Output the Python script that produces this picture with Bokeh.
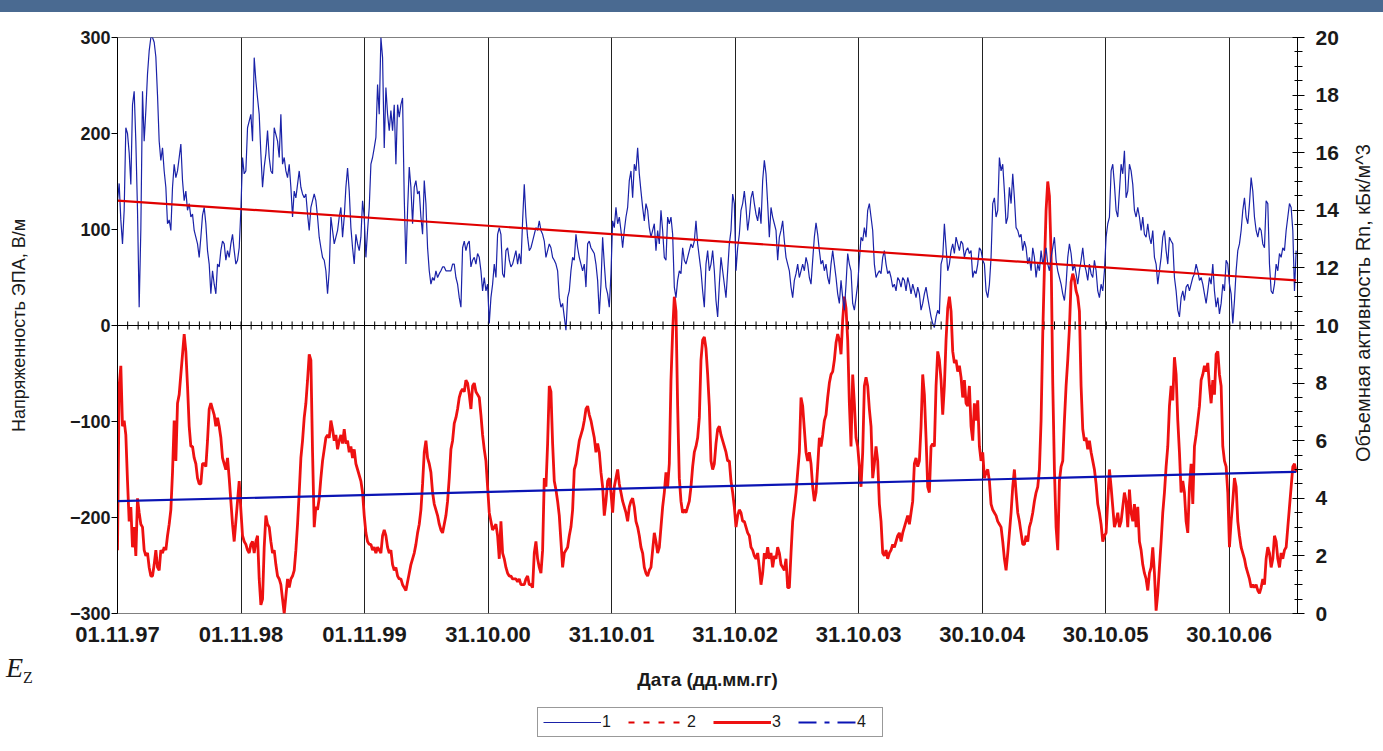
import pandas as pd
from bokeh.plotting import figure
from bokeh.models import (Range1d, LinearAxis, FixedTicker, SingleIntervalTicker,
                          DatetimeTickFormatter, Span, Legend, LegendItem, Label, Div)
from bokeh.layouts import column, row
from bokeh.embed import file_html
from bokeh.resources import INLINE

# Vertical electric field strength E_z, V/m (observation series)
ez_values = [
    130, 148, 110, 85, 120, 206, 200, 180, 147, 230, 244, 192, 120, 19, 100, 244, 192, 224, 262, 286,
    300, 300, 295, 280, 240, 192, 172, 185, 161, 144, 106, 110, 99, 144, 168, 154, 161, 175, 189, 151,
    130, 140, 120, 127, 113, 116, 99, 92, 85, 71, 92, 115, 123, 106, 78, 64, 33, 57, 43, 33,
    64, 61, 78, 88, 85, 68, 78, 71, 85, 95, 78, 64, 68, 81, 120, 175, 158, 161, 206, 213,
    220, 192, 279, 255, 237, 220, 179, 144, 165, 179, 203, 175, 161, 158, 206, 199, 192, 175, 220, 168,
    175, 161, 154, 168, 144, 113, 140, 133, 147, 161, 144, 137, 133, 137, 116, 99, 123, 130, 137, 130,
    113, 92, 81, 71, 68, 57, 33, 57, 113, 99, 85, 92, 99, 113, 123, 92, 113, 144, 164, 140,
    102, 81, 64, 95, 85, 78, 92, 130, 113, 71, 99, 123, 168, 175, 185, 196, 251, 220, 300, 279,
    185, 248, 220, 203, 224, 203, 230, 168, 230, 217, 230, 237, 133, 64, 120, 165, 144, 106, 144, 151,
    137, 140, 113, 95, 151, 127, 81, 57, 43, 50, 47, 57, 50, 54, 57, 61, 61, 57, 57, 57,
    57, 64, 64, 50, 43, 29, 19, 81, 88, 78, 85, 88, 61, 68, 71, 64, 75, 71, 57, 36,
    50, 36, 43, 2, 29, 43, 64, 50, 95, 102,
    95, 54, 50, 78, 81, 68, 61, 64, 71, 78, 64, 75, 64, 109, 147, 113, 92, 78, 81, 88,
    95, 102, 99, 109, 99, 95, 88, 71, 78, 85, 81, 71, 68, 64, 57, 29, 19, 23, 9, -5,
    29, 36, 57, 71, 68, 95, 81, 71, 64, 57, 64, 40, 85, 88, 81, 78, 75, 64, 47, 12,
    43, 92, 64, 40, 33, 19, 54, 109, 102, 123, 106, 113, 99, 81, 99, 113, 123, 151, 161, 133,
    168, 161, 185, 158, 140, 123, 109, 127, 120, 102, 92, 99, 106, 78, 99, 85, 120, 99, 71, 68,
    113, 106, 113, 95, 40, 29, 47, 57, 54, 81, 68, 64, 71, 78, 85, 81, 88, 109, 85, 71,
    57, 36, 19, 64, 78, 57, 64, 78, 57, 26, 9, 43, 71, 57, 43, 29, 57, 85, 99, 137,
    127, 57, 81, 95, 120, 127, 140, 123, 99, 113, 133, 140, 127, 116, 109, 123, 106, 151, 172, 158,
    127, 92, 123, 113, 106, 99, 68, 92, 99, 109, 88, 71, 64, 57, 40, 29, 47, 54, 64, 50,
    57, 64, 57, 71, 64, 50, 43, 68, 92, 107, 95, 78, 64, 68, 57, 64, 50, 43, 64, 78,
    64, 50, 33, 23, 47, 29, 16, 43, 75, 64, 57, 23, 16, 29, 43, 68, 92, 88, 102, 92,
    120, 127, 113, 99, 64, 50, 54, 57, 54, 71, 78, 64, 54, 57, 50, 40, 43, 36, 50, 47,
    40, 50, 47, 36, 50, 43, 33, 43, 36, 29, 40, 33, 16, 23, 33, 40, 29, 19, 9, 2,
    -2, 9, 16, 12, 64, 71, 106, 81, 57, 64, 78, 85, 75, 92, 85, 78, 88, 85, 71, 78,
    81, 75, 78, 50, 57, 54, 64, 81, 78, 68, 64, 36, 29, 43, 71, 127, 133, 113, 120, 175,
    161, 168, 140, 106, 113, 144, 127, 158, 133, 102, 99, 92, 95, 78, 88, 81, 64, 71, 57, 81,
    71, 50, 64, 57, 78, 64, 71, 81, 64, 57, 71, 81, 92, 68, 57, 50, 43, 33, 26, 43,
    71, 85, 75, 57, 64, 54, 43, 57, 68, 81, 64, 57, 47, 64, 54, 50, 68, 57, 36, 29,
    43, 36, 57, 92, 106, 113, 161, 168, 147, 120, 113, 140, 168, 158, 182, 133, 140, 168, 161, 147,
    120, 113, 123, 113, 99, 113, 95, 92, 106, 92, 85, 99, 71, 64, 43, 57, 71, 92, 99, 78,
    64, 92, 88, 85, 50, 36, 16, 9, 29, 36, 26, 40, 43, 36, 43, 50, 54, 64, 57, 47,
    50, 43, 33, 23, 36, 50, 43, 64, 36, 19, 29, 12, 23, 43, 36, 68, 64, 43, 33, 2,
    26, 57, 78, 85, 99, 120, 133, 113, 106, 127, 154, 140, 113, 99, 92, 102, 99, 85, 81, 130,
    127, 64, 36, 33, 43, 64, 57, 75, 71, 81, 78, 99, 113, 127, 123, 99, 36, 78,
]

# Volumetric radon activity, kBq/m^3 (observation series)
rn_values = [
    2.2, 7.9, 8.6, 6.5, 6.7, 6.2, 4.6, 3.2, 3.7, 2.3, 3.0, 2.0, 4.0, 3.5, 3.1, 3.0, 2.2, 2.0, 2.1, 1.6,
    1.3, 1.3, 1.7, 2.2, 1.6, 1.5, 2.2, 2.1, 2.3, 2.2, 2.7, 3.1, 3.6, 4.9, 6.7, 5.3, 7.3, 7.6, 8.3, 9.0,
    9.7, 9.1, 7.9, 6.5, 5.8, 5.8, 5.4, 5.2, 4.7, 4.5, 4.5, 5.2, 5.2, 5.1, 6.0, 7.1, 7.3, 7.1, 6.9, 6.5,
    6.8, 6.5, 6.1, 5.4, 5.2, 5.0, 5.4, 4.7, 3.9, 3.1, 2.5, 3.2, 3.9, 4.6, 3.6, 2.7, 2.5, 2.4, 2.2, 2.1,
    2.4, 2.5, 2.1, 2.5, 2.7, 1.2, 0.3, 0.5, 2.3, 3.4, 3.1, 3.0, 2.5, 2.1, 2.2, 1.7, 1.3, 1.2, 1.0, 0.5,
    0.0, 0.6, 1.2, 0.9, 1.2, 1.3, 1.5, 2.2, 3.1, 4.2, 5.4, 6.0, 6.8, 7.3, 8.1, 9.0, 8.8, 5.6, 3.0, 3.7,
    3.6, 4.0, 4.7, 5.3, 5.7, 6.1, 6.2, 6.1, 6.7, 6.4, 6.0, 6.2, 5.7, 6.0, 6.2, 5.9, 6.4, 5.9, 6.0, 5.6,
    5.8, 5.4, 5.7, 5.2, 5.0, 4.8, 4.6, 4.2, 3.4, 2.8, 2.5, 2.4, 2.4, 2.2, 2.3, 2.1, 2.3, 2.2, 2.1, 2.7,
    2.9, 2.7, 2.3, 2.1, 2.2, 1.7, 1.5, 1.6, 1.3, 1.2, 1.2, 1.0, 0.9, 0.8, 1.1, 1.4, 1.7, 1.9, 2.1, 2.4,
    2.8, 3.1, 3.6, 4.5, 5.6, 6.0, 5.4, 5.2, 4.9, 4.2, 3.8, 3.6, 3.4, 3.1, 2.9, 2.8, 3.1, 3.4, 3.9, 4.7,
    5.7, 6.0, 6.6, 6.8, 7.1, 7.5, 7.7, 7.8, 7.7, 8.1, 8.0, 7.6, 7.1, 7.9, 8.0, 7.7, 7.6, 7.5, 6.9, 6.2,
    5.7, 5.3, 4.4, 3.5, 3.2, 2.9, 3.0, 3.1, 2.7, 1.9,
    3.2, 2.1, 1.9, 1.6, 1.4, 1.3, 1.3, 1.2, 1.2, 1.2, 1.1, 1.2, 1.0, 1.0, 1.0, 1.2, 1.3, 1.0, 1.0, 0.9,
    2.1, 2.5, 1.9, 1.6, 1.4, 2.2, 4.7, 4.4, 5.9, 7.9, 7.7, 5.9, 4.6, 4.3, 3.9, 3.4, 2.5, 1.6, 2.1, 2.2,
    2.3, 2.7, 3.0, 3.6, 5.0, 5.2, 5.6, 6.0, 6.2, 6.4, 6.7, 7.1, 7.2, 6.9, 6.7, 6.4, 6.1, 5.6, 5.9, 5.6,
    4.9, 4.4, 3.4, 3.9, 4.6, 4.7, 4.2, 3.5, 4.4, 4.7, 5.0, 4.5, 4.2, 3.9, 3.7, 3.5, 3.2, 3.7, 3.9, 4.0,
    3.7, 3.2, 3.0, 2.7, 2.3, 2.1, 1.6, 1.4, 1.3, 1.5, 1.6, 2.2, 2.8, 2.5, 2.1, 2.3, 3.0, 3.7, 4.2, 4.9,
    4.4, 5.2, 8.1, 9.8, 11.0, 10.5, 7.2, 4.7, 3.9, 3.5, 3.6, 3.5, 3.7, 3.9, 4.4, 5.1, 5.6, 5.8, 6.1, 6.8,
    8.8, 9.5, 9.6, 9.2, 8.3, 7.2, 5.3, 5.0, 5.2, 5.9, 6.4, 6.5, 6.2, 6.0, 5.8, 5.6, 5.3, 5.3, 4.6, 4.2,
    3.7, 3.0, 3.4, 3.6, 3.5, 3.2, 3.2, 3.0, 2.8, 2.7, 2.3, 2.2, 2.0, 1.9, 2.1, 1.6, 1.0, 1.4, 2.1, 1.9,
    2.3, 1.9, 2.1, 1.6, 2.0, 1.9, 2.3, 2.1, 1.7, 1.6, 1.5, 1.9, 0.9, 0.9, 2.1, 3.2, 3.7, 4.2, 4.9, 5.6,
    7.5, 7.2, 6.4, 5.6, 5.3, 5.6, 5.2, 4.4, 3.9, 4.2, 5.1, 6.1, 5.8, 6.2, 6.7, 6.9, 7.5, 8.0, 8.3, 8.4,
    8.8, 9.4, 9.7, 9.5, 9.0, 10.2, 11.0, 10.6, 9.5, 7.3, 5.8, 8.3, 7.3, 6.1, 5.8, 5.1, 4.4, 5.6, 7.9, 8.2,
    7.9, 7.1, 6.5, 4.7, 5.2, 5.8, 5.3, 3.8, 3.2, 2.1, 2.0, 2.2, 1.9, 2.1, 2.2, 2.4, 2.3, 2.5, 2.7, 2.8,
    2.5, 2.8, 3.0, 3.2, 3.4, 3.1, 3.5, 3.9, 5.2, 5.4, 5.1, 5.3, 6.5, 8.3, 7.6, 6.1, 4.4, 4.2, 5.8, 5.9,
    5.8, 7.9, 9.1, 8.8, 8.1, 6.9, 7.9, 9.5, 10.6, 11.0, 10.5, 9.1, 8.7, 8.8, 8.4, 8.6, 8.2, 7.5, 8.1, 7.3,
    7.2, 7.9, 6.5, 6.0, 7.3, 6.7, 7.4, 5.8, 5.3, 5.6, 4.7, 4.9, 5.0, 4.6, 3.8, 3.6, 3.5, 3.4, 3.2, 3.1,
    3.0, 2.5, 1.9, 1.5, 2.1, 2.8, 3.5, 4.4, 5.0, 4.2, 3.5, 3.2, 2.8, 2.4, 2.4, 2.7, 2.5, 3.0, 3.2, 3.5,
    3.9, 4.2, 4.4, 5.0, 6.7, 9.7, 12.0, 14.0, 15.0, 14.5, 12.5, 8.0, 5.0, 3.0, 2.2, 4.6, 5.1, 5.3, 6.7, 7.9,
    8.8, 9.9, 11.5, 11.8, 11.6, 11.2, 11.0, 10.5, 7.9, 6.4, 6.0, 6.1, 5.7, 6.0, 5.6, 5.3, 5.0, 4.5, 3.8, 3.5,
    3.1, 2.5, 2.7, 2.8, 3.9, 5.0, 4.4, 3.7, 3.0, 3.2, 3.5, 3.0, 3.2, 3.7, 4.2, 3.9, 3.0, 4.3, 3.5, 3.2,
    3.8, 3.0, 3.7, 2.5, 2.2, 1.7, 1.4, 1.2, 0.8, 1.4, 1.6, 2.3, 1.4, 0.1, 0.7, 1.6, 2.5, 3.5, 4.2, 5.1,
    5.8, 7.2, 7.9, 7.4, 8.9, 8.3, 6.7, 5.6, 4.2, 4.6, 4.2, 3.2, 2.8, 4.4, 5.2, 3.8, 5.8, 6.2, 6.7, 7.2,
    8.1, 8.3, 8.6, 8.4, 8.7, 7.9, 7.3, 8.1, 7.6, 9.0, 9.1, 8.3, 7.9, 5.8, 5.3, 5.1, 4.2, 2.3, 3.2, 3.9,
    4.7, 4.4, 3.2, 2.7, 2.3, 2.1, 1.9, 1.6, 1.4, 1.2, 0.9, 1.0, 0.9, 1.0, 0.8, 0.7, 0.9, 1.2, 1.0, 1.9,
    2.3, 2.1, 1.6, 1.9, 2.7, 2.5, 1.9, 1.6, 2.1, 1.9, 2.2, 2.3, 3.0, 3.7, 4.4, 5.1, 5.2, 4.9,
]

# Observation period (both series are evenly sampled over it)
series_start = "1997-11-01"
series_end = "2007-05-16"
axis_end = "2007-05-20"

# Linear trends: values at the start and end of the period
ez_trend = [130, 47]      # trend of E_z, V/m
rn_trend = [3.9, 4.92]    # trend of Rn, kBq/m^3

# Date axis ticks (one per 365 days)
tick_dates = ["1997-11-01", "1998-11-01", "1999-11-01", "2000-10-31", "2001-10-31",
              "2002-10-31", "2003-10-31", "2004-10-30", "2005-10-30", "2006-10-30"]

legend_labels = ["1", "2", "3", "4"]
x_title = "Дата (дд.мм.гг)"
left_title = "Напряженность ЭПА, В/м"
right_title = "Объемная активность Rn, кБк/м^3"

FONT = "Liberation Sans"
INK = "#1a1a1a"
BLUE = "#1a22a8"
RED = "#ee1111"
TREND_RED = "#e00000"
TREND_BLUE = "#0a14b4"

ez_dates = pd.date_range(series_start, series_end, periods=len(ez_values))
rn_dates = pd.date_range(series_start, series_end, periods=len(rn_values))
trend_dates = pd.to_datetime([series_start, series_end])
tick_ms = [pd.Timestamp(d).value / 1e6 for d in tick_dates]
month_ticks = pd.date_range(series_start, axis_end, freq="MS")

# ---------------- main chart ----------------
p = figure(width=1354, height=641, x_axis_type="datetime",
           x_range=Range1d(pd.Timestamp(series_start), pd.Timestamp(axis_end)),
           y_range=Range1d(-300, 300),
           output_backend="svg", toolbar_location=None,
           min_border_left=117, min_border_right=57, min_border_top=25, min_border_bottom=40)
p.extra_y_ranges = {"rn": Range1d(0, 20)}
p.background_fill_color = "white"
p.border_fill_color = "white"
p.outline_line_color = "#808080"

# vertical year lines
p.ygrid.visible = False
p.xgrid.ticker = FixedTicker(ticks=tick_ms)
p.xgrid.grid_line_color = "#222222"
p.xgrid.grid_line_width = 1

# date axis
xa = p.xaxis[0]
xa.ticker = FixedTicker(ticks=tick_ms)
xa.formatter = DatetimeTickFormatter(days="%d.%m.%y", months="%d.%m.%y", years="%d.%m.%y",
                                     hours="%d.%m.%y", hourmin="%d.%m.%y")
xa.axis_line_color = None
xa.major_tick_line_color = None
xa.minor_tick_line_color = None
xa.major_tick_out = 0
xa.major_tick_in = 0
xa.major_label_standoff = 13
xa.major_label_text_font = FONT
xa.major_label_text_font_style = "bold"
xa.major_label_text_font_size = "22px"
xa.major_label_text_color = INK

# left axis: field strength
ya = p.yaxis[0]
ya.ticker = SingleIntervalTicker(interval=100, num_minor_ticks=0)
ya.axis_line_color = "black"
ya.major_tick_out = 6
ya.major_tick_in = 0
ya.major_tick_line_color = "black"
ya.minor_tick_line_color = None
ya.major_label_standoff = 1
ya.major_label_text_font = FONT
ya.major_label_text_font_style = "bold"
ya.major_label_text_font_size = "18px"
ya.major_label_text_color = INK
ya.axis_label = left_title
ya.axis_label_text_font = FONT
ya.axis_label_text_font_style = "normal"
ya.axis_label_text_font_size = "18px"
ya.axis_label_text_color = INK
ya.axis_label_standoff = 38

# right axis: radon activity (its caption is set beside the chart)
ra = LinearAxis(y_range_name="rn", ticker=SingleIntervalTicker(interval=2, num_minor_ticks=4))
ra.axis_line_color = "black"
ra.major_tick_out = 7
ra.major_tick_in = 5
ra.minor_tick_out = 5
ra.minor_tick_in = 3
ra.major_tick_line_color = "black"
ra.minor_tick_line_color = "black"
ra.major_label_standoff = 11
ra.major_label_text_font = FONT
ra.major_label_text_font_style = "bold"
ra.major_label_text_font_size = "21px"
ra.major_label_text_color = INK
p.add_layout(ra, "right")

# zero line with monthly tick marks
p.add_layout(Span(location=0, dimension="width", line_color="black", line_width=1))
p.segment(x0=month_ticks, y0=-4.2, x1=month_ticks, y1=4.2, line_color="black", line_width=1)

# series and trends
p.line(rn_dates, rn_values, y_range_name="rn", line_color=RED, line_width=2.8)
p.line(ez_dates, ez_values, line_color=BLUE, line_width=1.2)
p.line(trend_dates, ez_trend, line_color=TREND_RED, line_width=2.2)
p.line(trend_dates, rn_trend, y_range_name="rn", line_color=TREND_BLUE, line_width=2.2)

# right-hand caption, reading bottom to top
right_caption = Div(
    width=29, height=641, margin=0,
    text=('<div style="margin-top:128px; margin-left:-5px; height:327px; '
          'writing-mode:vertical-rl; transform:rotate(180deg); text-align:center; '
          f'white-space:nowrap; font-family:\'{FONT}\'; font-size:20px; color:{INK};">'
          f'{right_title}</div>'))

# ---------------- footer: symbol, axis caption and legend ----------------
symbol = Div(
    width=117, height=98, margin=0,
    text=('<div style="padding-left:6px; padding-top:0px; white-space:nowrap; '
          f'font-family:\'Liberation Serif\'; color:{INK}; line-height:30px;">'
          '<span style="font-style:italic; font-size:28px;">E</span>'
          '<span style="font-size:16px; position:relative; top:6px;">Z</span></div>'))

foot = figure(width=1266, height=98, x_range=Range1d(0, 1266), y_range=Range1d(0, 98),
              output_backend="svg", toolbar_location=None,
              x_axis_location=None, y_axis_location=None, min_border=0)
foot.outline_line_color = None
foot.grid.visible = False
foot.background_fill_color = "white"
foot.border_fill_color = "white"

foot.add_layout(Label(x=590, y=72, x_units="screen", y_units="screen", text=x_title,
                      text_align="center", text_baseline="middle", text_font=FONT,
                      text_font_style="bold", text_font_size="19px", text_color=INK))

# legend swatches (single points, nothing visible in the footer area itself)
s1 = foot.line([-50], [-50], line_color=BLUE, line_width=1.2)
s2 = foot.line([-50], [-50], line_color=TREND_RED, line_width=2, line_dash="6 9")
s3 = foot.line([-50], [-50], line_color=RED, line_width=2.8)
s4 = foot.line([-50], [-50], line_color=TREND_BLUE, line_width=2, line_dash="18 8 5 8")
legend = Legend(items=[LegendItem(label=lab, renderers=[r])
                       for lab, r in zip(legend_labels, [s1, s2, s3, s4])],
                orientation="horizontal", location=(420, 14),
                glyph_width=58, glyph_height=14, label_standoff=1, spacing=6,
                padding=5, margin=0, label_text_font=FONT, label_text_font_size="16px",
                label_text_color=INK, border_line_color="#333333", border_line_width=1,
                background_fill_alpha=1)
foot.add_layout(legend)

banner = Div(text="", width=1383, height=12, margin=0,
             styles={"background-color": "#4a6a91"})
layout = column(banner, row(p, right_caption, spacing=0), row(symbol, foot, spacing=0),
                spacing=0)

open("out.html", "w").write(file_html(layout, INLINE))
